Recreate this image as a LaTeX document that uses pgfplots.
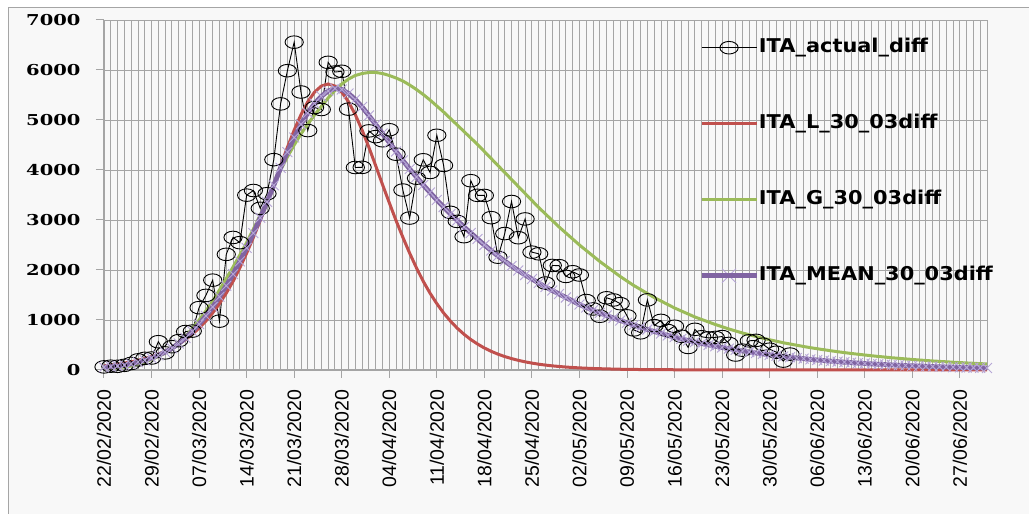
\documentclass[border=0pt]{standalone}
\usepackage{fontspec}
\usepackage{xcolor}
\usepackage{pgfplots}
\usepackage{pgfplotstable}
\pgfplotsset{compat=1.18}
\setmainfont{Liberation Sans}
\newfontfamily\xfont{Liberation Sans}
\newfontfamily\yfont[FakeStretch=1.3]{DejaVu Serif}
\newfontfamily\legfont[FakeStretch=1.1]{DejaVu Sans}
\definecolor{cred}{RGB}{192,80,77}
\definecolor{cgreen}{RGB}{155,187,89}
\definecolor{cpurple}{RGB}{128,100,162}
\definecolor{clav}{RGB}{182,166,214}
\definecolor{gridc}{RGB}{165,165,165}
\definecolor{cbg}{RGB}{248,248,248}
\pagecolor{cbg}
\pgfplotsset{meanlegend/.style={legend image code/.code={\draw[clav, line width=0.9pt] (20.5pt,-7pt) -- (34.5pt,7pt) (20.5pt,7pt) -- (34.5pt,-7pt); \draw[##1] (0pt,0pt) -- (55pt,0pt);}}}

\pgfplotstableread{
d v
0 62
1 76
2 74
3 93
4 131
5 202
6 233
7 240
8 566
9 342
10 466
11 587
12 769
13 778
14 1247
15 1492
16 1797
17 977
18 2313
19 2651
20 2547
21 3497
22 3590
23 3233
24 3526
25 4207
26 5322
27 5986
28 6557
29 5560
30 4789
31 5249
32 5210
33 6153
34 5959
35 5974
36 5217
37 4050
38 4053
39 4782
40 4668
41 4585
42 4805
43 4316
44 3599
45 3039
46 3836
47 4204
48 3951
49 4694
50 4092
51 3153
52 2972
53 2667
54 3786
55 3493
56 3491
57 3047
58 2256
59 2729
60 3370
61 2646
62 3021
63 2357
64 2324
65 1739
66 2091
67 2086
68 1872
69 1965
70 1900
71 1389
72 1221
73 1075
74 1444
75 1401
76 1327
77 1083
78 802
79 744
80 1402
81 888
82 992
83 789
84 875
85 675
86 451
87 813
88 665
89 642
90 652
91 669
92 531
93 300
94 397
95 584
96 593
97 516
98 416
99 355
100 178
101 318
}\actual

\pgfplotstableread{
d v
0 83
1 98
2 116
3 138
4 163
5 193
6 228
7 269
8 317
9 374
10 440
11 519
12 609
13 715
14 837
15 979
16 1141
17 1327
18 1537
19 1774
20 2043
21 2337
22 2654
23 2988
24 3346
25 3710
26 4086
27 4453
28 4797
29 5106
30 5364
31 5558
32 5679
33 5720
34 5679
35 5558
36 5364
37 5106
38 4797
39 4453
40 4086
41 3710
42 3346
43 2988
44 2654
45 2337
46 2043
47 1774
48 1537
49 1327
50 1141
51 979
52 837
53 715
54 609
55 519
56 440
57 374
58 317
59 269
60 228
61 193
62 163
63 138
64 116
65 98
66 83
67 70
68 59
69 50
70 42
72 30
74 22
76 15
78 11
80 8
85 4
90 2
100 1
110 0
130 0
}\logis

\pgfplotstableread{
d v
0 25
1 35
2 45
3 60
4 80
5 120
6 160
7 210
8 270
9 340
10 430
11 540
12 670
13 830
14 1000
15 1180
16 1380
17 1600
18 1830
19 2060
20 2300
21 2550
22 2820
23 3100
24 3380
25 3680
26 4000
27 4260
28 4500
29 4720
30 4920
31 5100
32 5270
33 5440
34 5590
35 5720
36 5820
37 5890
38 5930
39 5950
40 5950
41 5930
42 5890
43 5840
44 5780
45 5700
46 5610
47 5510
48 5400
49 5280
50 5160
51 5030
52 4900
53 4770
54 4640
55 4510
56 4370
57 4230
58 4090
59 3950
60 3810
61 3670
62 3530
63 3390
64 3250
65 3120
66 2990
67 2860
68 2740
69 2620
70 2500
71 2390
72 2280
73 2170
74 2070
75 1970
76 1870
77 1780
78 1690
79 1610
80 1530
81 1450
82 1380
83 1310
84 1240
85 1180
86 1120
87 1060
88 1010
89 960
90 910
91 865
92 820
93 780
94 740
95 705
96 670
97 635
98 605
99 575
100 545
101 520
102 495
103 470
104 447
105 425
106 405
107 385
108 366
109 348
110 331
111 315
112 300
113 285
114 271
115 258
116 245
117 233
118 222
119 211
120 200
121 190
122 181
123 172
124 164
125 156
126 148
127 141
128 134
129 127
130 121
}\gomp

\pgfplotstableread{
d v
0 54
1 67
2 81
3 99
4 122
5 157
6 194
7 240
8 294
9 357
10 435
11 530
12 640
13 773
14 919
15 1080
16 1261
17 1464
18 1684
19 1917
20 2172
21 2444
22 2737
23 3044
24 3363
25 3695
26 4043
27 4357
28 4649
29 4913
30 5142
31 5329
32 5475
33 5580
34 5630
35 5610
36 5530
37 5410
38 5260
39 5090
40 4910
41 4730
42 4550
43 4370
44 4190
45 4020
46 3860
47 3700
48 3550
49 3400
50 3260
51 3120
52 2990
53 2860
54 2740
55 2620
56 2500
57 2390
58 2280
59 2180
60 2080
61 1990
62 1900
63 1820
64 1740
65 1660
66 1590
67 1520
68 1450
69 1380
70 1310
71 1250
72 1195
73 1140
74 1090
75 1040
76 990
77 945
78 900
79 855
80 810
81 770
82 730
83 692
84 656
85 622
86 590
87 559
88 530
89 502
90 475
91 450
92 426
93 403
94 381
95 360
96 340
97 321
98 303
99 286
100 270
101 255
102 240
103 226
104 213
105 200
106 188
107 177
108 166
109 156
110 147
111 138
112 130
113 122
114 115
115 108
116 101
117 95
118 89
119 84
120 79
121 74
122 69
123 65
124 61
125 57
126 53
127 50
128 46
129 43
130 40
}\meanc

\begin{document}
\begin{tikzpicture}
\useasboundingbox (0pt,0pt) rectangle (1029pt,514pt);
\fill[white] (0pt,507pt) rectangle (1029pt,514pt);
\fill[white] (0pt,0pt) rectangle (8pt,514pt);
\draw[gridc, line width=0.8pt] (8pt,-5pt) -- (8pt,507pt) -- (1040pt,507pt);
\begin{axis}[
  at={(104pt,144pt)}, anchor=south west,
  scale only axis, width=883pt, height=350pt,
  xmin=0, xmax=130, ymin=0, ymax=7000,
  clip=false,
  axis x line*=bottom, axis y line*=left,
  axis line style={gridc, line width=1pt, -},
  xtick={0,7,...,126},
  xticklabels={22/02/2020,29/02/2020,07/03/2020,14/03/2020,21/03/2020,28/03/2020,04/04/2020,11/04/2020,18/04/2020,25/04/2020,02/05/2020,09/05/2020,16/05/2020,23/05/2020,30/05/2020,06/06/2020,13/06/2020,20/06/2020,27/06/2020},
  ytick={0,1000,...,7000},
  yticklabels={0,1000,2000,3000,4000,5000,6000,7000},
  tick align=outside, major tick length=8pt,
  every tick/.append style={draw=gridc, line width=1pt},
  xticklabel style={rotate=90, anchor=east, font=\xfont\fontsize{19.5}{20}\selectfont},
  yticklabel style={font=\yfont\fontsize{15}{16}\selectfont\bfseries},
  xticklabel shift=8pt,
  yticklabel shift=12pt,
  legend image code/.code={\draw[mark repeat=2,mark phase=2,#1] plot coordinates {(0pt,0pt) (27.5pt,0pt) (55pt,0pt)};},
  legend style={at={(0.6738,0.9457)}, anchor=north west, draw=none, fill=none,
    inner sep=0pt, row sep=59pt, column sep=0pt,
    font=\legfont\fontsize{19}{20}\selectfont\bfseries,
    nodes={inner sep=0pt, text height=13pt, text depth=4pt}},
  legend cell align=left,
]
\addplot[gridc, line width=0.9pt, ycomb, no marks, forget plot] coordinates {
(0,7000) (1,7000) (2,7000) (3,7000) (4,7000) (5,7000) (6,7000) (7,7000) (8,7000) (9,7000)
(10,7000) (11,7000) (12,7000) (13,7000) (14,7000) (15,7000) (16,7000) (17,7000) (18,7000) (19,7000)
(20,7000) (21,7000) (22,7000) (23,7000) (24,7000) (25,7000) (26,7000) (27,7000) (28,7000) (29,7000)
(30,7000) (31,7000) (32,7000) (33,7000) (34,7000) (35,7000) (36,7000) (37,7000) (38,7000) (39,7000)
(40,7000) (41,7000) (42,7000) (43,7000) (44,7000) (45,7000) (46,7000) (47,7000) (48,7000) (49,7000)
(50,7000) (51,7000) (52,7000) (53,7000) (54,7000) (55,7000) (56,7000) (57,7000) (58,7000) (59,7000)
(60,7000) (61,7000) (62,7000) (63,7000) (64,7000) (65,7000) (66,7000) (67,7000) (68,7000) (69,7000)
(70,7000) (71,7000) (72,7000) (73,7000) (74,7000) (75,7000) (76,7000) (77,7000) (78,7000) (79,7000)
(80,7000) (81,7000) (82,7000) (83,7000) (84,7000) (85,7000) (86,7000) (87,7000) (88,7000) (89,7000)
(90,7000) (91,7000) (92,7000) (93,7000) (94,7000) (95,7000) (96,7000) (97,7000) (98,7000) (99,7000)
(100,7000) (101,7000) (102,7000) (103,7000) (104,7000) (105,7000) (106,7000) (107,7000) (108,7000) (109,7000)
(110,7000) (111,7000) (112,7000) (113,7000) (114,7000) (115,7000) (116,7000) (117,7000) (118,7000) (119,7000)
(120,7000) (121,7000) (122,7000) (123,7000) (124,7000) (125,7000) (126,7000) (127,7000) (128,7000) (129,7000)
(130,7000)};
\addplot[gridc, line width=0.9pt, xcomb, no marks, forget plot] coordinates {
(130,0) (130,1000) (130,2000) (130,3000) (130,4000) (130,5000) (130,6000) (130,7000)};
\addplot[gridc, line width=1pt, xcomb, no marks, forget plot] coordinates {
(-1.2,0) (-1.2,1000) (-1.2,2000) (-1.2,3000) (-1.2,4000) (-1.2,5000) (-1.2,6000) (-1.2,7000)};
\addplot[gridc, line width=1pt, ycomb, no marks, forget plot] coordinates {
(0,-150) (7,-150) (14,-150) (21,-150) (28,-150) (35,-150) (42,-150) (49,-150) (56,-150) (63,-150)
(70,-150) (77,-150) (84,-150) (91,-150) (98,-150) (105,-150) (112,-150) (119,-150) (126,-150)};
\addplot[black, line width=0.9pt, mark=o, mark size=6.3pt, mark options={xscale=1.45, solid, line width=0.9pt, fill=none}] table[x=d,y=v] {\actual};
\addlegendentry{ITA\_actual\_diff}
\addplot[cred, line width=3pt, no marks] table[x=d,y=v] {\logis};
\addlegendentry{ITA\_L\_30\_03diff}
\addplot[cgreen, line width=3pt, no marks] table[x=d,y=v] {\gomp};
\addlegendentry{ITA\_G\_30\_03diff}
\addplot[clav, only marks, mark=x, mark size=7pt, mark options={line width=0.9pt}, forget plot] table[x=d,y=v] {\meanc};
\addplot[cpurple, line width=4.8pt, no marks, meanlegend] table[x=d,y=v] {\meanc};
\addlegendentry{ITA\_MEAN\_30\_03diff}
\end{axis}
\end{tikzpicture}
\end{document}
